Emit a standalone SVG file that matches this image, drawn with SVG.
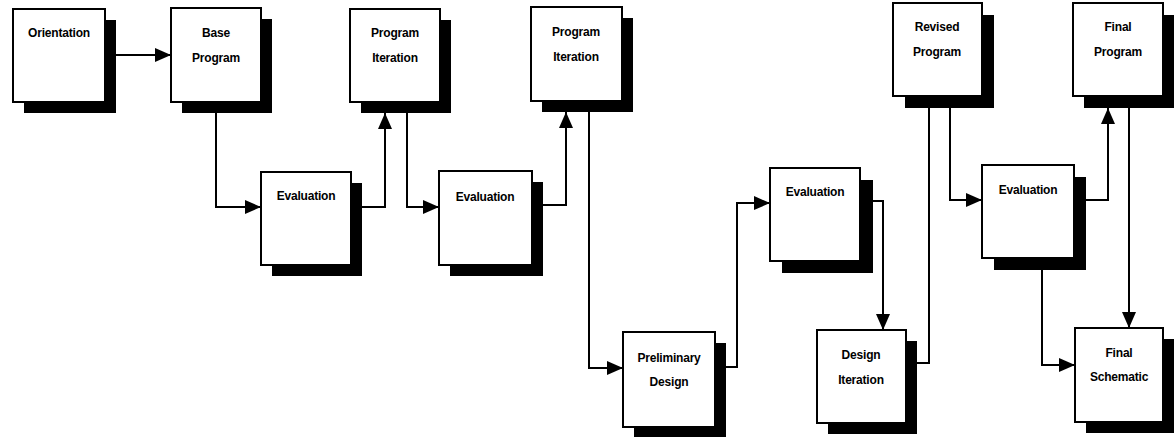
<svg xmlns="http://www.w3.org/2000/svg" width="1174" height="437" viewBox="0 0 1174 437">
  <style>
    .shadow { fill: #000; }
    .box { fill: #fff; stroke: #000; stroke-width: 2; }
    .label { font-family: "Liberation Sans", Arial, sans-serif; font-size: 12px; font-weight: bold; fill: #000; text-anchor: middle; letter-spacing: -0.2px; }
    .wire { fill: none; stroke: #000; stroke-width: 2; }
  </style>
  <defs>
    <marker id="arrow" markerUnits="userSpaceOnUse" markerWidth="18" markerHeight="14" refX="16" refY="7" orient="auto">
      <path d="M0,0 L16,7 L0,14 Z" fill="#000"/>
    </marker>
  </defs>
  <rect width="1174" height="437" fill="#fff"/>

  <!-- connectors -->
  <g id="connectors" class="wire">
    <path d="M116,55 H171" marker-end="url(#arrow)"/>
    <path d="M216,113 V207 H261" marker-end="url(#arrow)"/>
    <path d="M362,207 H385 V113" marker-end="url(#arrow)"/>
    <path d="M407,113 V207 H439" marker-end="url(#arrow)"/>
    <path d="M543,205 H566 V112" marker-end="url(#arrow)"/>
    <path d="M589,112 V368 H623" marker-end="url(#arrow)"/>
    <path d="M726,367 H737 V203 H770" marker-end="url(#arrow)"/>
    <path d="M873,201 H883 V330" marker-end="url(#arrow)"/>
    <path d="M917,363 H929 V108"/>
    <path d="M950,108 V200 H982" marker-end="url(#arrow)"/>
    <path d="M1086,200 H1108 V108" marker-end="url(#arrow)"/>
    <path d="M1129,108 V328" marker-end="url(#arrow)"/>
    <path d="M1042,270 V365 H1075" marker-end="url(#arrow)"/>
  </g>

  <!-- nodes: black drop shadow, white box, label -->
  <g id="orientation">
    <rect class="shadow" x="24" y="20" width="92" height="93"/>
    <rect class="box" x="13" y="9" width="92" height="93"/>
    <text class="label" x="59" y="37">Orientation</text>
  </g>
  <g id="base-program">
    <rect class="shadow" x="182" y="19" width="90" height="94"/>
    <rect class="box" x="171" y="8" width="90" height="94"/>
    <text class="label" x="216" y="37">Base</text>
    <text class="label" x="216" y="62">Program</text>
  </g>
  <g id="evaluation-1">
    <rect class="shadow" x="272" y="183" width="90" height="93"/>
    <rect class="box" x="261" y="172" width="90" height="93"/>
    <text class="label" x="306" y="200">Evaluation</text>
  </g>
  <g id="program-iteration-1">
    <rect class="shadow" x="361" y="20" width="90" height="93"/>
    <rect class="box" x="350" y="9" width="90" height="93"/>
    <text class="label" x="395" y="37">Program</text>
    <text class="label" x="395" y="62">Iteration</text>
  </g>
  <g id="evaluation-2">
    <rect class="shadow" x="450" y="182" width="93" height="94"/>
    <rect class="box" x="439" y="171" width="93" height="94"/>
    <text class="label" x="485" y="201">Evaluation</text>
  </g>
  <g id="program-iteration-2">
    <rect class="shadow" x="542" y="18" width="91" height="94"/>
    <rect class="box" x="531" y="7" width="91" height="94"/>
    <text class="label" x="576" y="36">Program</text>
    <text class="label" x="576" y="61">Iteration</text>
  </g>
  <g id="preliminary-design">
    <rect class="shadow" x="634" y="343" width="92" height="95"/>
    <rect class="box" x="623" y="332" width="92" height="95"/>
    <text class="label" x="669" y="362">Preliminary</text>
    <text class="label" x="669" y="386">Design</text>
  </g>
  <g id="evaluation-3">
    <rect class="shadow" x="782" y="180" width="91" height="93"/>
    <rect class="box" x="770" y="168" width="90" height="93"/>
    <text class="label" x="815" y="196">Evaluation</text>
  </g>
  <g id="design-iteration">
    <rect class="shadow" x="828" y="341" width="89" height="93"/>
    <rect class="box" x="817" y="330" width="89" height="93"/>
    <text class="label" x="861" y="359">Design</text>
    <text class="label" x="861" y="384">Iteration</text>
  </g>
  <g id="revised-program">
    <rect class="shadow" x="905" y="15" width="89" height="93"/>
    <rect class="box" x="893" y="3" width="89" height="93"/>
    <text class="label" x="937" y="31">Revised</text>
    <text class="label" x="937" y="56">Program</text>
  </g>
  <g id="evaluation-4">
    <rect class="shadow" x="994" y="177" width="92" height="93"/>
    <rect class="box" x="982" y="165" width="92" height="93"/>
    <text class="label" x="1028" y="194">Evaluation</text>
  </g>
  <g id="final-program">
    <rect class="shadow" x="1084" y="15" width="90" height="93"/>
    <rect class="box" x="1073" y="3" width="90" height="93"/>
    <text class="label" x="1118" y="31">Final</text>
    <text class="label" x="1118" y="56">Program</text>
  </g>
  <g id="final-schematic">
    <rect class="shadow" x="1086" y="339" width="88" height="94"/>
    <rect class="box" x="1075" y="328" width="88" height="94"/>
    <text class="label" x="1119" y="357">Final</text>
    <text class="label" x="1119" y="381">Schematic</text>
  </g>
</svg>
